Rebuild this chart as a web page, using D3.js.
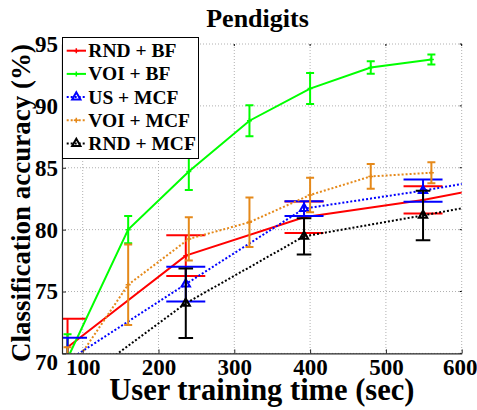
<!DOCTYPE html>
<html>
<head>
<meta charset="utf-8">
<script src="https://cdn.jsdelivr.net/npm/d3@7"></script>
<style>
    body { margin: 0; background: #fff; }
    svg text { font-family: 'Liberation Serif', 'DejaVu Serif', serif; font-weight: bold; fill: #000; }
</style>
</head>
<body>
<svg id="chart" width="477" height="410"></svg>
<script>
// Data (x = user training time in sec, y = accuracy in %)
const rndBfX  = [80, 236, 392, 549, 705];
const rndBfY  = [70.5, 77.9, 81.0, 82.4, 84.2];
const rndBfE  = [2.3, 1.65, 1.27, 1.1, 0];

const voiBfX  = [80, 160, 240, 320, 400, 480, 560];
const voiBfY  = [69.6, 80.0, 84.7, 88.8, 91.4, 93.1, 93.75];
const voiBfE  = [1.95, 1.1, 1.5, 1.25, 1.25, 0.5, 0.4];

const usMcfX  = [80, 236, 392, 549, 705];
const usMcfY  = [69.4, 75.6, 81.7, 83.15, 84.8];
const usMcfE  = [1.87, 1.4, 0.6, 0.9, 0];

const voiMcfX = [80, 160, 240, 320, 400, 480, 560];
const voiMcfY = [68.3, 75.55, 79.25, 80.6, 82.8, 84.3, 84.6];
const voiMcfE = [2.2, 3.25, 1.75, 2.0, 1.4, 1.0, 0.85];

const rndMcfX = [80, 236, 392, 549, 705];
const rndMcfY = [67.0, 74.05, 79.46, 81.15, 82.9];
const rndMcfE = [2.5, 2.8, 1.46, 2.0, 0];

const xTicks = [100, 200, 300, 400, 500, 600];
const yTicks = [70, 75, 80, 85, 90, 95];

const FONT = "'Liberation Serif', 'DejaVu Serif', serif";

const zip = (xs, ys, es) => xs.map((x, i) => ({ x: x, y: ys[i], e: es[i] }));

// Series definitions (drawing order = legend order)
const series = [
    { name: "RND + BF",  color: "#ff0000", dash: null,  marker: "plus",     cap: 19.5, pts: zip(rndBfX, rndBfY, rndBfE) },
    { name: "VOI + BF",  color: "#00ff00", dash: null,  marker: "plus",     cap: 4,    pts: zip(voiBfX, voiBfY, voiBfE) },
    { name: "US + MCF",  color: "#0000ff", dash: "2,2", marker: "triangle", cap: 19.5, pts: zip(usMcfX, usMcfY, usMcfE) },
    { name: "VOI + MCF", color: "#e5891a", dash: "2,2", marker: "plus",     cap: 4,    pts: zip(voiMcfX, voiMcfY, voiMcfE) },
    { name: "RND + MCF", color: "#000000", dash: "2,2", marker: "triangle", cap: 7.3,  pts: zip(rndMcfX, rndMcfY, rndMcfE) }
];

const svg = d3.select("#chart");
const plot = { left: 62, right: 461.7, top: 44, bottom: 353.4 };

const x = d3.scaleLinear().domain([72.7, 600]).range([plot.left, plot.right]);
const y = d3.scaleLinear().domain([70, 95]).range([plot.bottom, plot.top]);

svg.append("rect").attr("width", 477).attr("height", 410).attr("fill", "#fff");

svg.append("defs").append("clipPath").attr("id", "clip")
    .append("rect")
    .attr("x", plot.left).attr("y", plot.top)
    .attr("width", plot.right - plot.left).attr("height", plot.bottom - plot.top);

// Dotted grid (also forms the top and right edges)
const grid = svg.append("g").attr("stroke", "#b0b0b0").attr("stroke-width", 1).attr("stroke-dasharray", "1,2");
grid.selectAll(".gx").data(xTicks).enter().append("line")
    .attr("x1", d => x(d)).attr("x2", d => x(d))
    .attr("y1", plot.top).attr("y2", plot.bottom);
grid.selectAll(".gy").data(yTicks).enter().append("line")
    .attr("x1", plot.left).attr("x2", plot.right)
    .attr("y1", d => y(d)).attr("y2", d => y(d));

// Small tick marks on the top and right edges
svg.append("g").selectAll("line").data(xTicks).enter().append("line")
    .attr("x1", d => x(d)).attr("x2", d => x(d))
    .attr("y1", plot.top).attr("y2", plot.top + 2)
    .attr("stroke", "#000");
svg.append("g").selectAll("line").data(yTicks).enter().append("line")
    .attr("x1", plot.right - 2).attr("x2", plot.right)
    .attr("y1", d => y(d)).attr("y2", d => y(d))
    .attr("stroke", "#000");

// Data layer
const data = svg.append("g").attr("clip-path", "url(#clip)");
const line = d3.line().x(d => x(d.x)).y(d => y(d.y));

function drawMarker(g, type, color) {
    if (type === "triangle") {
        g.append("path")
            .attr("d", d3.symbol(d3.symbolTriangle, 30)())
            .attr("fill", "none")
            .attr("stroke", color)
            .attr("stroke-width", 2);
    } else {
        g.append("path")
            .attr("d", "M-2.5,0H2.5M0,-2.5V2.5")
            .attr("stroke", color)
            .attr("stroke-width", 1.5);
    }
}

series.forEach(s => {
    const g = data.append("g");

    g.append("path")
        .datum(s.pts)
        .attr("d", line)
        .attr("fill", "none")
        .attr("stroke", s.color)
        .attr("stroke-width", 2)
        .attr("stroke-dasharray", s.dash);

    // Error bars with caps
    const eb = g.selectAll(".eb").data(s.pts.filter(d => d.e > 0)).enter().append("g");
    eb.append("line")
        .attr("x1", d => x(d.x)).attr("x2", d => x(d.x))
        .attr("y1", d => y(d.y - d.e)).attr("y2", d => y(d.y + d.e))
        .attr("stroke", s.color).attr("stroke-width", 2);
    [-1, 1].forEach(sign => {
        eb.append("line")
            .attr("x1", d => x(d.x) - s.cap).attr("x2", d => x(d.x) + s.cap)
            .attr("y1", d => y(d.y + sign * d.e)).attr("y2", d => y(d.y + sign * d.e))
            .attr("stroke", s.color).attr("stroke-width", 2);
    });

    g.selectAll(".mk").data(s.pts).enter().append("g")
        .attr("transform", d => `translate(${x(d.x)},${y(d.y)})`)
        .each(function() { drawMarker(d3.select(this), s.marker, s.color); });
});

// Axes (ticks point inward)
const xAxis = svg.append("g")
    .attr("transform", `translate(0,${plot.bottom})`)
    .call(d3.axisBottom(x).tickValues(xTicks).tickSize(-4).tickSizeOuter(0).tickPadding(5));
const yAxis = svg.append("g")
    .attr("transform", `translate(${plot.left},0)`)
    .call(d3.axisLeft(y).tickValues(yTicks).tickSize(-4).tickSizeOuter(0).tickPadding(4));

[xAxis, yAxis].forEach(a => {
    a.attr("font-family", FONT);
    a.select(".domain").attr("stroke", "#262626").attr("stroke-width", 1.2);
    a.selectAll(".tick line").attr("stroke", "#262626");
    a.selectAll(".tick text")
        .attr("fill", "#000")
        .attr("font-family", FONT)
        .attr("font-weight", "bold")
        .attr("font-size", 23);
});
// Matlab nudges the lowest y label down and keeps the last x label inside the figure
yAxis.selectAll(".tick text").filter(d => d === 70).attr("dy", "0.68em");
xAxis.selectAll(".tick text").filter(d => d === 600).attr("dx", -2);

// Titles
svg.append("text")
    .attr("x", 257.5).attr("y", 26.7)
    .attr("text-anchor", "middle")
    .attr("font-family", FONT).attr("font-size", 26)
    .text("Pendigits");

svg.append("text")
    .attr("x", (plot.left + plot.right) / 2).attr("y", 400)
    .attr("text-anchor", "middle")
    .attr("font-family", FONT).attr("font-size", 30.5)
    .text("User training time (sec)");

svg.append("text")
    .attr("transform", "translate(30,203) rotate(-90)")
    .attr("text-anchor", "middle")
    .attr("font-family", FONT).attr("font-size", 27)
    .text("Classification accuracy (%)");

// Legend
const legend = svg.append("g");
legend.append("rect")
    .attr("x", 62.5).attr("y", 37.5)
    .attr("width", 136).attr("height", 121)
    .attr("fill", "#fff").attr("stroke", "#000").attr("stroke-width", 1);

series.forEach((s, i) => {
    const ly = 50.7 + i * 23.2;
    const row = legend.append("g");
    row.append("line")
        .attr("x1", 66.7).attr("x2", 86)
        .attr("y1", ly).attr("y2", ly)
        .attr("stroke", s.color).attr("stroke-width", 2)
        .attr("stroke-dasharray", s.dash);
    const m = row.append("g").attr("transform", `translate(76.3,${ly})`);
    drawMarker(m, s.marker, s.color);
    row.append("text")
        .attr("x", 88.3).attr("y", ly + 6.5)
        .attr("font-family", FONT).attr("font-size", 19.5)
        .text(s.name);
});
</script>
</body>
</html>
